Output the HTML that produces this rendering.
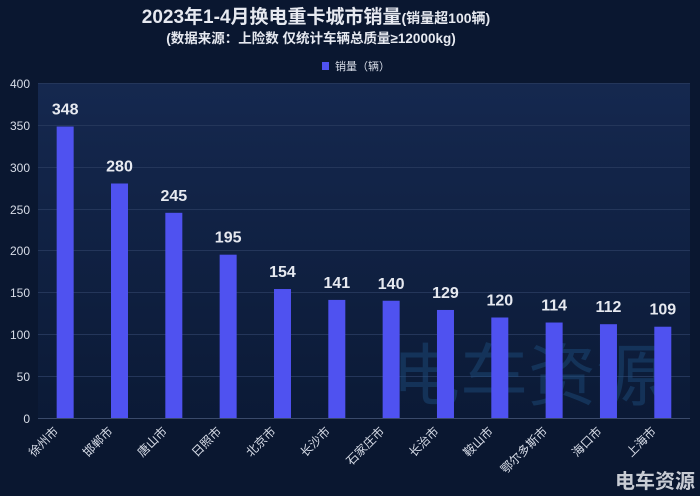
<!DOCTYPE html>
<html><head><meta charset="utf-8"><style>
html,body{margin:0;padding:0;background:#0a1730;width:700px;height:496px;overflow:hidden}
svg text{font-family:"Liberation Sans","Noto Sans CJK SC",sans-serif}
</style></head><body>
<svg width="700" height="496" xmlns="http://www.w3.org/2000/svg">
<defs><linearGradient id="g" x1="0" y1="0" x2="0" y2="1"><stop offset="0" stop-color="#15284f"/><stop offset="1" stop-color="#0b1a36"/></linearGradient></defs>
<rect width="700" height="496" fill="#0a1730"/>
<rect x="38" y="83" width="652" height="335" fill="url(#g)"/>
<g stroke="#24365a" stroke-width="1">
<line x1="38" x2="690" y1="83.5" y2="83.5"/><line x1="38" x2="690" y1="125.5" y2="125.5"/><line x1="38" x2="690" y1="167.5" y2="167.5"/><line x1="38" x2="690" y1="209.5" y2="209.5"/><line x1="38" x2="690" y1="250.5" y2="250.5"/><line x1="38" x2="690" y1="292.5" y2="292.5"/><line x1="38" x2="690" y1="334.5" y2="334.5"/><line x1="38" x2="690" y1="376.5" y2="376.5"/><line x1="38" x2="690" y1="418.5" y2="418.5" stroke="#3a4a6a"/>
</g>
<g fill="#d8dde8" font-size="12" text-anchor="end">
<text x="30" y="88">400</text><text x="30" y="130">350</text><text x="30" y="172">300</text><text x="30" y="214">250</text><text x="30" y="255">200</text><text x="30" y="297">150</text><text x="30" y="339">100</text><text x="30" y="381">50</text><text x="30" y="423">0</text>
</g>
<text x="316" y="23" fill="#e6e9f0" font-size="19" font-weight="bold" text-anchor="middle">2023年1-4月换电重卡城市销量<tspan font-size="14">(销量超100辆)</tspan></text>
<text x="311" y="43" fill="#e6e9f0" font-size="13.5" font-weight="bold" text-anchor="middle">(数据来源：上险数  仅统计车辆总质量≥12000kg)</text>
<rect x="322" y="62" width="7" height="8" fill="#4f52f0"/>
<text x="335" y="70" fill="#d8dde8" font-size="11">销量（辆）</text>
<text x="528" y="400" fill="#1e4f80" opacity="0.45" font-size="68" text-anchor="middle">电车资源</text>
<g id="bars" fill="#4f52f0"></g>
<g id="vals" fill="#e6e9f0" font-size="16" font-weight="bold" text-anchor="middle"></g>
<g id="cats" fill="#d8dde8" font-size="12"></g>
<text x="695" y="488" fill="#c8ccd4" font-size="20" font-weight="bold" text-anchor="end">电车资源</text>
<script>
var v=[348,280,245,195,154,141,140,129,120,114,112,109];
var c=["徐州市","邯郸市","唐山市","日照市","北京市","长沙市","石家庄市","长治市","鞍山市","鄂尔多斯市","海口市","上海市"];
var ns="http://www.w3.org/2000/svg",b=document.getElementById("bars"),t=document.getElementById("vals"),k=document.getElementById("cats");
for(var i=0;i<12;i++){var cx=38+54.33*(i+0.5),h=v[i]*0.8375;
var r=document.createElementNS(ns,"rect");r.setAttribute("x",cx-8.5);r.setAttribute("y",418-h);r.setAttribute("width",17);r.setAttribute("height",h);b.appendChild(r);
var s=document.createElementNS(ns,"text");s.setAttribute("x",cx);s.setAttribute("y",418-h-12);s.textContent=v[i];t.appendChild(s);
var q=document.createElementNS(ns,"text");q.setAttribute("text-anchor","end");q.setAttribute("transform","translate("+(cx-6)+",432) rotate(-45)");q.textContent=c[i];k.appendChild(q);}
</script>
</svg>
</body></html>
